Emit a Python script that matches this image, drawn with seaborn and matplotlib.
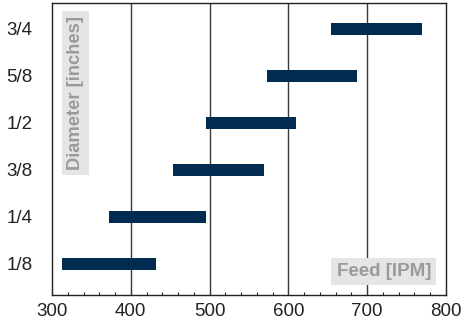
import matplotlib
matplotlib.use("Agg")
import matplotlib.pyplot as plt
import seaborn as sns
import pandas as pd
from matplotlib.ticker import MultipleLocator

# Data
diameters = ["3/4", "5/8", "1/2", "3/8", "1/4", "1/8"]
feed_min = [654, 573, 495, 454, 372, 313]
feed_max = [770, 687, 610, 569, 495, 432]
x_ticks = [300, 400, 500, 600, 700, 800]

df = pd.DataFrame({"diameter": diameters, "fmin": feed_min, "fmax": feed_max})

sns.set_theme(style="white")
plt.rcParams["font.family"] = ["Liberation Sans", "DejaVu Sans"]

fig = plt.figure(figsize=(4.64, 3.25), dpi=100)
ax = fig.add_axes([52 / 464, 1 - 295 / 325, 394 / 464, 292 / 325])

sns.barplot(data=df, x="fmax", y="diameter", order=diameters, orient="h",
            color="#022b52", saturation=1, width=0.26, ax=ax, zorder=3)

# turn bars into floating ranges from the data
for patch, lo, hi in zip(ax.patches, df["fmin"], df["fmax"]):
    patch.set_x(lo)
    patch.set_width(hi - lo)
    patch.set_edgecolor("none")

ax.set_xlim(300, 800)
ax.set_ylim(5.66, -0.55)
ax.set_xticks(x_ticks)
ax.xaxis.set_minor_locator(MultipleLocator(20))
ax.set_xlabel("")
ax.set_ylabel("")

for xv in x_ticks[1:-1]:
    ax.axvline(xv, color="#3a3a3a", lw=1.0, zorder=1)

for sp in ax.spines.values():
    sp.set_color("#222222")
    sp.set_linewidth(1.0)

ax.tick_params(axis="x", which="major", direction="in", length=4, width=0.8,
               color="#222222", labelsize=13.5, labelcolor="#222222", pad=6, bottom=True)
ax.tick_params(axis="x", which="minor", direction="in", length=2.5, width=0.8,
               color="#222222", bottom=True)
ax.tick_params(axis="y", length=0, labelsize=13.5, labelcolor="#222222", pad=14)

box = dict(boxstyle="square,pad=0.28", facecolor="#e5e5e5", edgecolor="none")
ax.text(0.06, 0.955, "Diameter [inches]", transform=ax.transAxes, rotation=90,
        ha="center", va="top", fontsize=13.2, fontweight="bold", color="#9a9a9a",
        bbox=box, zorder=4)
ax.text(0.962, 0.052, "Feed [IPM]", transform=ax.transAxes,
        ha="right", va="bottom", fontsize=13.5, fontweight="bold", color="#9a9a9a",
        bbox=box, zorder=4)

fig.savefig("out.png", dpi=100)
